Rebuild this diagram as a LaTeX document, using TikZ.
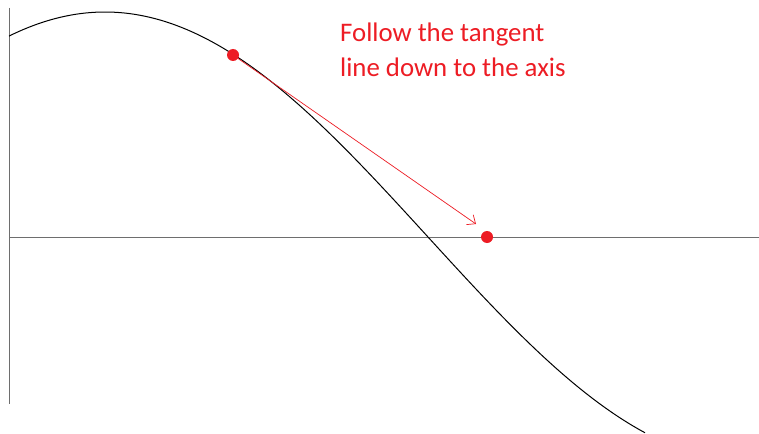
\documentclass[tikz,border=0pt]{standalone}
\usepackage{fontspec}
\setmainfont{Carlito}
\usetikzlibrary{arrows.meta}
\definecolor{paintred}{RGB}{237,28,36}
\definecolor{axisgray}{RGB}{110,110,110}
\begin{document}
\begin{tikzpicture}[x=1pt,y=-1pt,
  axisline/.style={draw=axisgray,line width=1pt},
  curveline/.style={draw=black,line width=1pt},
  dotmark/.style={circle,fill=paintred,inner sep=0pt,minimum size=12pt},
  tangentline/.style={draw=paintred,line width=0.7pt,-{Straight Barb[length=7pt,width=12pt]}},
  labeltext/.style={text=paintred,font=\fontsize{26.8}{35}\selectfont,align=left,inner sep=0pt}]
\useasboundingbox (0,0) rectangle (759,433);
\fill[white] (0,0) rectangle (759,433);
\coordinate (yTop) at (9,8);
\coordinate (yBot) at (9,404);
\coordinate (xL) at (9,237);
\coordinate (xR) at (759,237);
\draw[axisline] (yTop) -- (yBot);
\draw[axisline] (xL) -- (xR);
\begin{scope}
\clip (0,0) rectangle (759,433);
\draw[curveline] plot[domain=9:645,samples=200,smooth] (\x,{237-225*cos(deg((\x-105)*pi/646))});
\end{scope}
\node[dotmark] (p0) at (233,55) {};
\node[dotmark] (p1) at (487,237) {};
\coordinate (tipEnd) at (476,224);
\draw[tangentline] (p0.center) -- (tipEnd);
\node[labeltext,anchor=base west] (lbl) at (340,77) {Follow the tangent\\line down to the axis};
\end{tikzpicture}
\end{document}
